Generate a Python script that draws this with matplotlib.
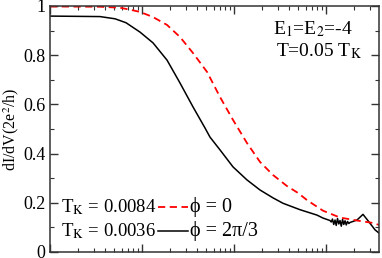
import numpy as np
import matplotlib
matplotlib.use("Agg")
import matplotlib.pyplot as plt
from matplotlib.ticker import MultipleLocator, LogLocator, NullFormatter

plt.rcParams["font.family"] = "serif"
plt.rcParams["font.serif"] = ["Liberation Serif", "DejaVu Serif"]
plt.rcParams["mathtext.fontset"] = "stix"

# ---------------------------------------------------------
# datos (x en log10)
# ---------------------------------------------------------
log_x_rojo = [-5.000, -4.457, -4.239, -4.130, -4.022, -3.880, -3.728, -3.587,
              -3.446, -3.293, -3.174, -3.152, -3.011, -2.859, -2.717, -2.576,
              -2.424, -2.304, -2.207, -2.033, -1.848, -1.663, -1.489, -1.424]
g_rojo = [0.998, 0.997, 0.993, 0.985, 0.976, 0.955, 0.923, 0.874,
          0.809, 0.732, 0.646, 0.630, 0.537, 0.443, 0.366, 0.313,
          0.268, 0.240, 0.211, 0.168, 0.140, 0.128, 0.118, 0.110]

log_x_negro = [-5.000, -4.457, -4.293, -4.174, -4.022, -3.880, -3.728, -3.587,
               -3.446, -3.315, -3.261, -3.152, -3.011, -2.859, -2.717, -2.576,
               -2.467, -2.283, -2.098, -2.033, -1.957,
               -1.943, -1.930, -1.916, -1.902, -1.889, -1.875, -1.861, -1.848,
               -1.834, -1.820, -1.807, -1.793, -1.780, -1.766, -1.752,
               -1.739, -1.663, -1.598, -1.543, -1.467, -1.424]
g_negro = [0.959, 0.957, 0.948, 0.932, 0.894, 0.850, 0.780, 0.687,
           0.590, 0.504, 0.467, 0.415, 0.346, 0.293, 0.252, 0.220,
           0.198, 0.172, 0.150, 0.138, 0.128,
           0.122, 0.134, 0.112, 0.130, 0.108, 0.136, 0.114, 0.128,
           0.105, 0.133, 0.112, 0.127, 0.110, 0.124, 0.116,
           0.120, 0.130, 0.153, 0.127, 0.090, 0.077]

tk_rojo = "0.0084"
tk_negro = "0.0036"
fase_rojo = "\u03d5 = 0"
fase_negro = "\u03d5 = 2\u03c0/3"

x_rojo = 10 ** np.array(log_x_rojo)
x_negro = 10 ** np.array(log_x_negro)

# ---------------------------------------------------------
# grafico
# ---------------------------------------------------------
fig = plt.figure(figsize=(3.82, 2.58), dpi=100)
ax = fig.add_axes([50 / 382, 6 / 258, 329 / 382, 246 / 258])

ax.plot(x_negro, g_negro, color="black", lw=1.1)
ax.plot(x_rojo, g_rojo, color="red", lw=1.3, dashes=(4, 2.5))

ax.set_xscale("log")
ax.set_xlim(1e-5, 10 ** -1.424)
ax.set_ylim(0, 1)

ax.yaxis.set_minor_locator(MultipleLocator(0.1))
ax.set_yticks([0, 0.2, 0.4, 0.6, 0.8, 1.0])
ax.set_yticklabels(["0", "0.2", "0.4", "0.6", "0.8", "1"])
ax.xaxis.set_major_locator(LogLocator(base=10))
ax.xaxis.set_minor_locator(LogLocator(base=10, subs=np.arange(2, 10)))
ax.xaxis.set_major_formatter(NullFormatter())
ax.xaxis.set_minor_formatter(NullFormatter())

ax.tick_params(which="both", direction="in", top=True, right=True,
               labelsize=13, color="#333333")
ax.tick_params(which="major", length=6, width=1)
ax.tick_params(which="minor", length=3, width=0.8)
for s in ax.spines.values():
    s.set_color("#333333")
    s.set_linewidth(1.1)

ax.set_ylabel(r"dI/dV(2e$^2$/h)", fontsize=11.5, labelpad=1)

# texto de parametros
ax.text(0.677, 0.905, r"E$_1$=E$_2$=-4", transform=ax.transAxes,
        fontsize=14, ha="left", va="center")
ax.text(0.686, 0.815, r"T=0.05 T$_\mathrm{K}$", transform=ax.transAxes,
        fontsize=14, ha="left", va="center")

# leyenda manual
filas = [(0.183, tk_rojo, fase_rojo, dict(color="red", lw=1.3, dashes=(4, 2.5))),
         (0.085, tk_negro, fase_negro, dict(color="black", lw=1.1))]
for yf, tk, fase, estilo in filas:
    ax.text(0.322, yf, r"T$_\mathrm{K}$ = " + tk, transform=ax.transAxes,
            fontsize=13.5, ha="right", va="center")
    ax.plot([0.328, 0.419], [yf, yf], transform=ax.transAxes, **estilo)
    ax.text(0.425, yf, fase, transform=ax.transAxes,
            fontsize=14.5, ha="left", va="center")

fig.savefig("out.png", dpi=100)
